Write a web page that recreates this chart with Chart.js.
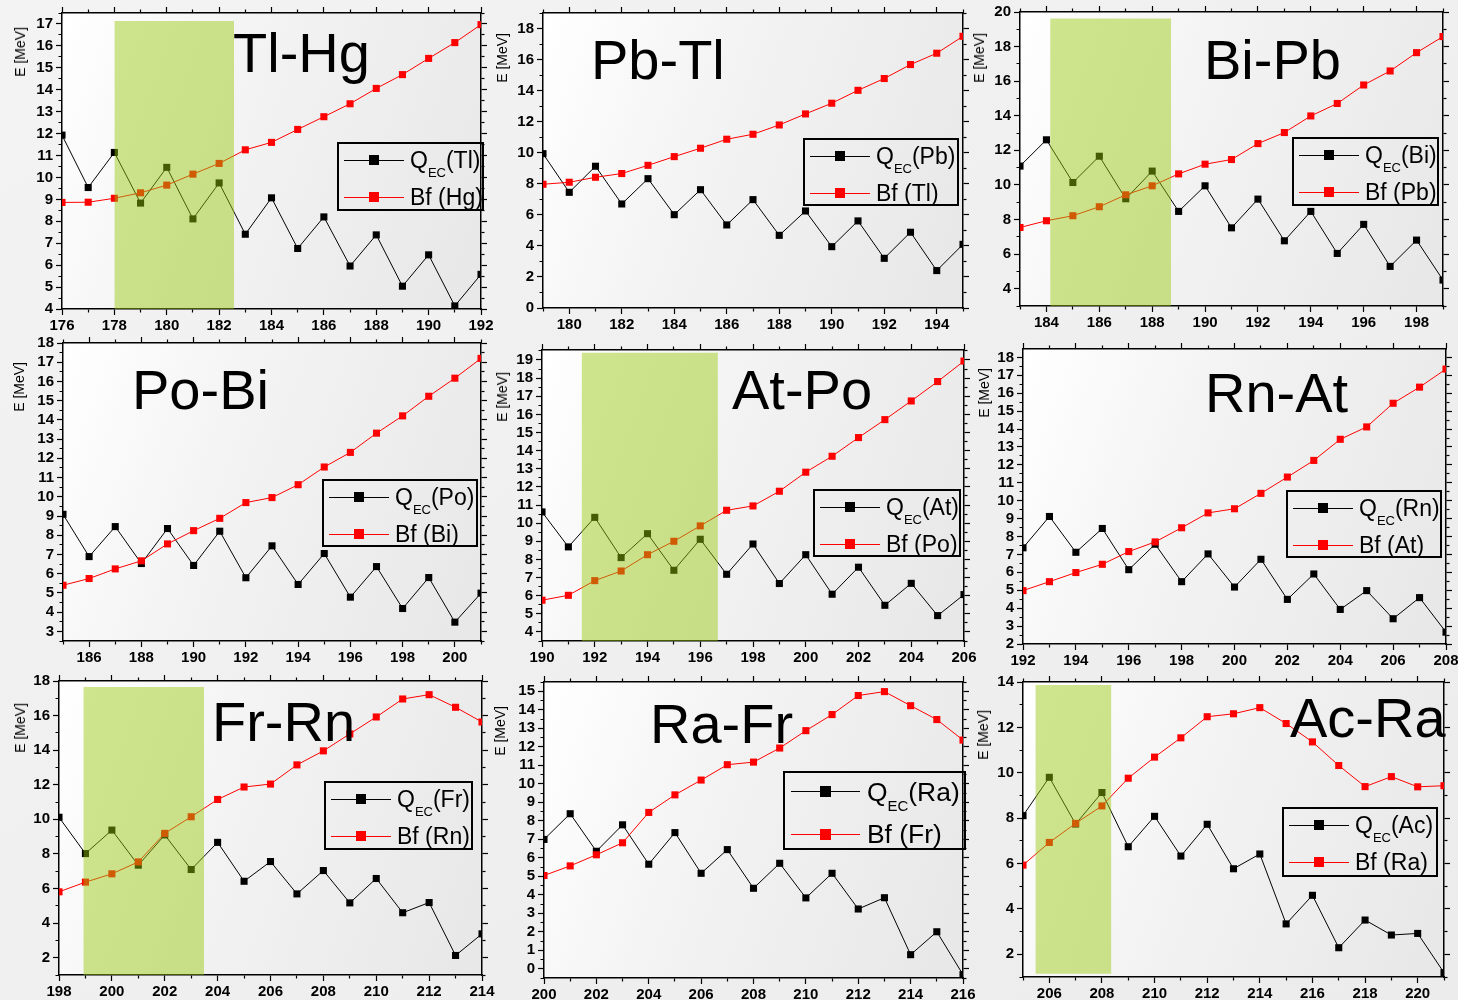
<!DOCTYPE html>
<html>
<head>
<meta charset="utf-8">
<title>QEC and Bf</title>
<script src="https://cdn.jsdelivr.net/npm/chart.js@4.4.1/dist/chart.umd.min.js"></script>
<style>
html, body { margin: 0; padding: 0; }
body {
    width: 1458px; height: 1000px; position: relative; overflow: hidden;
    background: linear-gradient(to bottom right, #f3f3f3 0%, #ececec 100%);
    font-family: "Liberation Sans", Arial, Helvetica, sans-serif;
}
.plotbg { position: absolute; background: linear-gradient(110deg, #ffffff 0%, #f3f3f3 40%, #e7e7e7 100%); }
canvas { position: absolute; }
.name { position: absolute; font-size: 56px; line-height: 56px; white-space: nowrap; color: #000; }
.ytitle {
    position: absolute; font-size: 14px; line-height: 16px; white-space: nowrap; color: #000;
    transform-origin: 0 0; transform: rotate(-90deg) translate(-100%, -50%);
}
.legend { position: absolute; border: 2px solid #000; box-sizing: border-box; }
.legend div, .legend span.txt { position: absolute; }
.legend span.txt { white-space: nowrap; color: #000; }
.legend span.sub { position: relative; line-height: 0; }
</style>
</head>
<body>
<script>
// Q_EC of the parent and fission barrier Bf of the daughter vs. mass number A (MeV)

const tlHgA   = [176, 177, 178, 179, 180, 181, 182, 183, 184, 185, 186, 187, 188, 189, 190, 191, 192];
const tlHgQec = [11.93, 9.54, 11.14, 8.83, 10.46, 8.11, 9.75, 7.41, 9.07, 6.76, 8.20, 5.96, 7.38, 5.04, 6.47, 4.14, 5.58];
const tlHgBf  = [8.86, 8.87, 9.05, 9.30, 9.65, 10.15, 10.64, 11.26, 11.60, 12.19, 12.77, 13.36, 14.06, 14.69, 15.43, 16.15, 16.97];
const tlHgBand = [178, 182.57, 4, 17.14];   // A from, A to, E from, E to

const pbTlA   = [179, 180, 181, 182, 183, 184, 185, 186, 187, 188, 189, 190, 191, 192, 193, 194, 195];
const pbTlQec = [9.94, 7.45, 9.13, 6.70, 8.33, 6.01, 7.62, 5.35, 6.98, 4.68, 6.25, 3.95, 5.61, 3.20, 4.88, 2.41, 4.10];
const pbTlBf  = [7.97, 8.10, 8.42, 8.66, 9.19, 9.75, 10.29, 10.87, 11.19, 11.79, 12.50, 13.19, 14.02, 14.78, 15.68, 16.41, 17.50];

const biPbA   = [183, 184, 185, 186, 187, 188, 189, 190, 191, 192, 193, 194, 195, 196, 197, 198, 199];
const biPbQec = [11.09, 12.61, 10.14, 11.66, 9.20, 10.80, 8.47, 9.95, 7.52, 9.18, 6.77, 8.47, 6.04, 7.72, 5.29, 6.81, 4.50];
const biPbBf  = [7.54, 7.93, 8.22, 8.74, 9.43, 9.95, 10.64, 11.20, 11.47, 12.39, 13.03, 13.99, 14.71, 15.78, 16.59, 17.65, 18.58];
const biPbBand = [184.14, 188.72, 3, 19.63];

const poBiA   = [185, 186, 187, 188, 189, 190, 191, 192, 193, 194, 195, 196, 197, 198, 199, 200, 201];
const poBiQec = [9.09, 6.89, 8.45, 6.53, 8.35, 6.43, 8.21, 5.79, 7.45, 5.44, 7.05, 4.78, 6.37, 4.19, 5.80, 3.48, 4.99];
const poBiBf  = [5.40, 5.75, 6.25, 6.67, 7.55, 8.24, 8.88, 9.70, 9.96, 10.63, 11.55, 12.31, 13.31, 14.21, 15.23, 16.17, 17.20];

const atPoA   = [190, 191, 192, 193, 194, 195, 196, 197, 198, 199, 200, 201, 202, 203, 204, 205, 206];
const atPoQec = [10.62, 8.69, 10.32, 8.10, 9.42, 7.40, 9.11, 7.18, 8.85, 6.67, 8.26, 6.08, 7.57, 5.47, 6.68, 4.90, 6.06];
const atPoBf  = [5.75, 6.02, 6.83, 7.36, 8.26, 9.00, 9.85, 10.71, 10.95, 11.76, 12.81, 13.69, 14.72, 15.71, 16.74, 17.81, 18.94];
const atPoBand = [191.5, 196.67, 3.5, 19.4];

const rnAtA   = [192, 193, 194, 195, 196, 197, 198, 199, 200, 201, 202, 203, 204, 205, 206, 207, 208];
const rnAtQec = [7.37, 9.12, 7.12, 8.45, 6.15, 7.57, 5.48, 7.03, 5.18, 6.73, 4.49, 5.91, 3.93, 4.98, 3.41, 4.59, 2.66];
const rnAtBf  = [4.98, 5.48, 5.99, 6.45, 7.16, 7.70, 8.49, 9.32, 9.55, 10.41, 11.32, 12.25, 13.43, 14.12, 15.44, 16.34, 17.35];

const frRnA   = [198, 199, 200, 201, 202, 203, 204, 205, 206, 207, 208, 209, 210, 211, 212, 213, 214];
const frRnQec = [10.12, 8.02, 9.38, 7.35, 9.10, 7.10, 8.67, 6.42, 7.56, 5.69, 7.04, 5.17, 6.58, 4.60, 5.19, 2.13, 3.38];
const frRnBf  = [5.81, 6.37, 6.85, 7.54, 9.19, 10.15, 11.15, 11.87, 12.04, 13.15, 13.96, 14.94, 15.92, 16.96, 17.21, 16.48, 15.63];
const frRnBand = [198.92, 203.49, 1, 17.65];

const raFrA   = [200, 201, 202, 203, 204, 205, 206, 207, 208, 209, 210, 211, 212, 213, 214, 215, 216];
const raFrQec = [6.99, 8.38, 6.35, 7.78, 5.65, 7.36, 5.16, 6.44, 4.35, 5.70, 3.83, 5.16, 3.23, 3.84, 0.76, 2.00, -0.32];
const raFrBf  = [5.04, 5.56, 6.16, 6.81, 8.45, 9.40, 10.20, 11.03, 11.17, 11.93, 12.87, 13.74, 14.77, 14.98, 14.22, 13.47, 12.36];

const acRaA   = [205, 206, 207, 208, 209, 210, 211, 212, 213, 214, 215, 216, 217, 218, 219, 220, 221];
const acRaQec = [8.11, 9.80, 7.74, 9.13, 6.74, 8.08, 6.33, 7.73, 5.77, 6.42, 3.34, 4.60, 2.29, 3.51, 2.85, 2.92, 1.19];
const acRaBf  = [5.93, 6.93, 7.77, 8.54, 9.76, 10.69, 11.54, 12.47, 12.60, 12.87, 12.17, 11.36, 10.32, 9.39, 9.83, 9.38, 9.43];
const acRaBand = [205.47, 208.36, 1.14, 13.87];

// layout of the 3x3 grid: plot area [l, t, r, b], axis ranges, text placement
const panels = [
    { name: 'Tl-Hg', q: 'Tl', b: 'Hg', A: tlHgA, qec: tlHgQec, bf: tlHgBf, band: tlHgBand,
      area: [62, 13, 481, 309], xr: [176, 192], yr: [4, 17.5], yStep: 0.5, yLabel: 1,
      name_at: [233, 72], ytitle: [20, 27], legend: [337, 142, 147, 69, 1] },
    { name: 'Pb-Tl', q: 'Pb', b: 'Tl', A: pbTlA, qec: pbTlQec, bf: pbTlBf, band: null,
      area: [543, 13, 963, 308], xr: [179, 195], yr: [0, 19], yStep: 1, yLabel: 2,
      name_at: [591, 79], ytitle: [502, 33], legend: [803, 138, 156, 68, 1] },
    { name: 'Bi-Pb', q: 'Bi', b: 'Pb', A: biPbA, qec: biPbQec, bf: biPbBf, band: biPbBand,
      area: [1020, 12, 1443, 306], xr: [183, 199], yr: [3, 20], yStep: 1, yLabel: 2,
      name_at: [1204, 79], ytitle: [979, 33], legend: [1292, 137, 147, 69, 1] },
    { name: 'Po-Bi', q: 'Po', b: 'Bi', A: poBiA, qec: poBiQec, bf: poBiBf, band: null,
      area: [63, 343, 481, 641], xr: [185, 201], yr: [2.5, 18], yStep: 0.5, yLabel: 1,
      name_at: [132, 409], ytitle: [19, 362], legend: [322, 479, 156, 68, 1] },
    { name: 'At-Po', q: 'At', b: 'Po', A: atPoA, qec: atPoQec, bf: atPoBf, band: atPoBand,
      area: [542, 350, 964, 641], xr: [190, 206], yr: [3.5, 19.55], yStep: 0.5, yLabel: 1,
      name_at: [732, 409], ytitle: [502, 372], legend: [813, 489, 148, 68, 1] },
    { name: 'Rn-At', q: 'Rn', b: 'At', A: rnAtA, qec: rnAtQec, bf: rnAtBf, band: null,
      area: [1023, 349, 1446, 644], xr: [192, 208], yr: [2, 18.47], yStep: 0.5, yLabel: 1,
      name_at: [1205, 412], ytitle: [984, 368], legend: [1286, 490, 156, 68, 1] },
    { name: 'Fr-Rn', q: 'Fr', b: 'Rn', A: frRnA, qec: frRnQec, bf: frRnBf, band: frRnBand,
      area: [59, 681, 482, 975], xr: [198, 214], yr: [1, 18], yStep: 1, yLabel: 2,
      name_at: [212, 741], ytitle: [20, 703], legend: [324, 781, 149, 69, 1] },
    { name: 'Ra-Fr', q: 'Ra', b: 'Fr', A: raFrA, qec: raFrQec, bf: raFrBf, band: null,
      area: [544, 682, 963, 978], xr: [200, 216], yr: [-0.5, 15.5], yStep: 0.5, yLabel: 1,
      name_at: [650, 743], ytitle: [500, 706], legend: [783, 771, 183, 79, 1.15] },
    { name: 'Ac-Ra', q: 'Ac', b: 'Ra', A: acRaA, qec: acRaQec, bf: acRaBf, band: acRaBand,
      area: [1023, 682, 1444, 977], xr: [205, 221], yr: [1, 14], yStep: 1, yLabel: 2,
      name_at: [1290, 737], ytitle: [983, 710], legend: [1282, 807, 156, 70, 1] }
];

Chart.defaults.font.family = '"Liberation Sans", Arial, Helvetica, sans-serif';
Chart.defaults.color = '#000';

const LEFT_W = 50, RIGHT_W = 18, TOP_H = 12, BOTTOM_H = 30;
const BAND_COLOR = 'rgba(150, 200, 10, 0.46)';

// outward tick marks, minor ones drawn short next to the axis line
function tickMarks(isMinor, fromOuter) {
    return {
        display: true,
        drawOnChartArea: false,
        drawTicks: true,
        tickLength: 6,
        tickColor: '#000',
        tickWidth: 1.2,
        tickBorderDash: function (c) {
            if (!c.tick || !isMinor(c.tick.value)) return [];
            return fromOuter ? [0, 2.5, 3, 40] : [3, 40];
        }
    };
}

function makeScales(p) {
    const xMinor = v => v % 2 !== 0;
    const yMinor = v => v % p.yLabel !== 0;
    const font = { size: 15, weight: 'bold' };
    const border = { display: true, color: '#000', width: 1.5 };
    const xTicks = { stepSize: 1, includeBounds: false, autoSkip: false, maxRotation: 0, font: font, color: '#000', padding: 2 };
    const yTicks = { stepSize: p.yStep, includeBounds: false, autoSkip: false, font: font, color: '#000', padding: 3 };
    return {
        x: {
            type: 'linear', axis: 'x', position: 'bottom', min: p.xr[0], max: p.xr[1], border: border,
            ticks: Object.assign({}, xTicks, { callback: v => xMinor(v) ? '' : String(v) }),
            grid: tickMarks(xMinor, false),
            afterFit: s => { s.height = BOTTOM_H; }
        },
        xTop: {
            type: 'linear', axis: 'x', position: 'top', min: p.xr[0], max: p.xr[1], border: border,
            ticks: Object.assign({}, xTicks, { display: false }),
            grid: tickMarks(xMinor, true),
            afterFit: s => { s.height = TOP_H; }
        },
        y: {
            type: 'linear', axis: 'y', position: 'left', min: p.yr[0], max: p.yr[1], border: border,
            ticks: Object.assign({}, yTicks, { callback: v => yMinor(v) ? '' : String(v) }),
            grid: tickMarks(yMinor, true),
            afterFit: s => { s.width = LEFT_W; }
        },
        yRight: {
            type: 'linear', axis: 'y', position: 'right', min: p.yr[0], max: p.yr[1], border: border,
            ticks: Object.assign({}, yTicks, { display: false }),
            grid: tickMarks(yMinor, false),
            afterFit: s => { s.width = RIGHT_W; }
        }
    };
}

function points(xs, ys) {
    return xs.map((x, i) => ({ x: x, y: ys[i] }));
}

function series(label, xs, ys, color, order) {
    return {
        label: label,
        data: points(xs, ys),
        borderColor: color,
        backgroundColor: color,
        borderWidth: 1,
        tension: 0,
        fill: false,
        pointStyle: 'rect',
        pointRadius: 5,
        pointBorderWidth: 0,
        pointBackgroundColor: color,
        order: order
    };
}

function addDiv(cls, css, html) {
    const d = document.createElement('div');
    d.className = cls;
    Object.assign(d.style, css);
    if (html) d.innerHTML = html;
    document.body.appendChild(d);
    return d;
}

// plot area backgrounds
panels.forEach(p => {
    const [l, t, r, b] = p.area;
    addDiv('plotbg', { left: l + 'px', top: t + 'px', width: (r - l) + 'px', height: (b - t) + 'px' });
});

// charts
panels.forEach(p => {
    const [l, t, r, b] = p.area;
    const cv = document.createElement('canvas');
    const w = r - l + LEFT_W + RIGHT_W;
    const h = b - t + TOP_H + BOTTOM_H;
    cv.width = w; cv.height = h;
    cv.style.left = (l - LEFT_W) + 'px';
    cv.style.top = (t - TOP_H) + 'px';
    cv.style.width = w + 'px';
    cv.style.height = h + 'px';
    document.body.appendChild(cv);

    const datasets = [];
    if (p.band) {
        datasets.push({
            label: 'band',
            data: [{ x: p.band[0], y: p.band[3] }, { x: p.band[1], y: p.band[3] }],
            borderWidth: 0,
            borderColor: 'rgba(0,0,0,0)',
            backgroundColor: BAND_COLOR,
            pointRadius: 0,
            fill: { value: p.band[2] },
            order: 0
        });
    }
    datasets.push(series('Bf (' + p.b + ')', p.A, p.bf, '#ff0000', 1));
    datasets.push(series('QEC(' + p.q + ')', p.A, p.qec, '#000000', 2));

    new Chart(cv.getContext('2d'), {
        type: 'line',
        data: { datasets: datasets },
        options: {
            responsive: false,
            maintainAspectRatio: false,
            devicePixelRatio: 1,
            animation: false,
            events: [],
            layout: { padding: 0 },
            plugins: { legend: { display: false }, tooltip: { enabled: false } },
            scales: makeScales(p)
        }
    });
});

// titles, axis labels and legends
panels.forEach(p => {
    addDiv('name', { left: p.name_at[0] + 'px', top: (p.name_at[1] - 47.4) + 'px' }, p.name);
    addDiv('ytitle', { left: p.ytitle[0] + 'px', top: p.ytitle[1] + 'px' }, 'E [MeV]');

    const [lx, ly, lw, lh, s] = p.legend;
    const box = addDiv('legend', { left: lx + 'px', top: ly + 'px', width: lw + 'px', height: lh + 'px' });
    const bw = 2;
    const fs = 23 * s;
    const rows = [
        { y: 18 * s, color: '#000', html: 'Q<span class="sub" style="font-size:' + (13 * s) + 'px;top:' + (9 * s) + 'px">EC</span>(' + p.q + ')' },
        { y: 55 * s, color: '#ff0000', html: 'Bf (' + p.b + ')' }
    ];
    rows.forEach(row => {
        const x0 = 7 * s - bw, len = 60 * s, m = 10 * s;
        const yc = row.y - bw;
        const line = document.createElement('div');
        Object.assign(line.style, { left: x0 + 'px', top: (yc - 0.5) + 'px', width: len + 'px', height: '1px', background: row.color });
        box.appendChild(line);
        const mk = document.createElement('div');
        Object.assign(mk.style, { left: (x0 + len / 2 - m / 2) + 'px', top: (yc - m / 2) + 'px', width: m + 'px', height: m + 'px', background: row.color });
        box.appendChild(mk);
        const tx = document.createElement('span');
        tx.className = 'txt';
        tx.innerHTML = row.html;
        const baseline = yc + 0.358 * fs;
        Object.assign(tx.style, { left: (x0 + len + 6 * s) + 'px', top: (baseline - 0.8465 * fs) + 'px', fontSize: fs + 'px', lineHeight: fs + 'px' });
        box.appendChild(tx);
    });
});
</script>
</body>
</html>
